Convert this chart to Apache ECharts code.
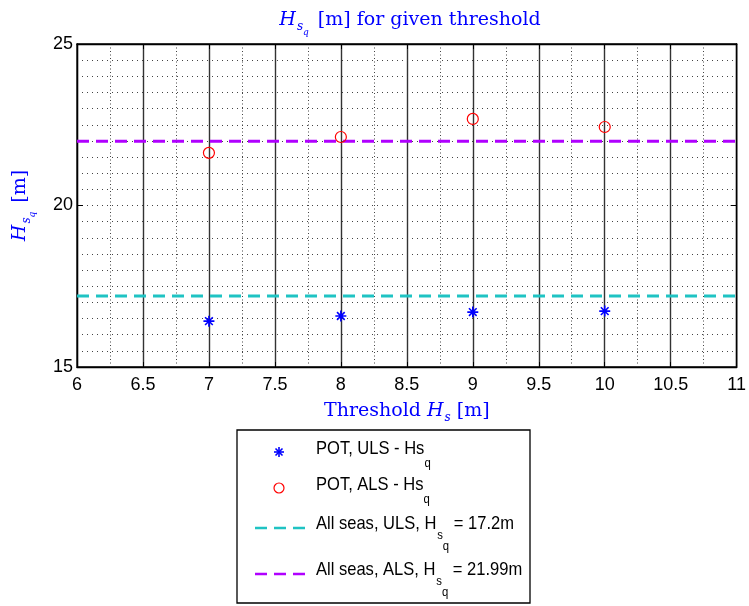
<!DOCTYPE html>
<html><head><meta charset="utf-8">
<script src="https://cdn.jsdelivr.net/npm/echarts@6/dist/echarts.min.js"></script>
<style>html,body{margin:0;padding:0;background:#fff}#c{width:749px;height:606px}</style>
</head><body><div id="c"></div>
<script>
// ---- data ----
const thresholds = [7, 8, 9, 10];
const hsqULS = [16.42, 16.58, 16.70, 16.73];
const hsqALS = [21.63, 22.12, 22.68, 22.43];
const allSeasULS = 17.2;
const allSeasALS = 21.99;
const xRange = [6, 11];
const yRange = [15, 25];
const legendNames = ['POT, ULS - Hs', 'POT, ALS - Hs', 'All seas, ULS, H', 'All seas, ALS, H'];

const SERIF = "'DejaVu Serif', 'Liberation Serif', serif";
const SANS = "'Liberation Sans', Arial, sans-serif";
const BLUE = '#0000ff';
const CYAN = '#1fc3c3';
const PURPLE = '#b000ff';
const STAR = 'path://M0,5L10,5M5,0L5,10M1.5,1.5L8.5,8.5M8.5,1.5L1.5,8.5';

const serifRich = {
  n: {fontFamily: SERIF, fontSize: 19, fontWeight: 'normal', color: BLUE, verticalAlign: 'top', lineHeight: 24},
  i: {fontFamily: SERIF, fontSize: 19, fontWeight: 'normal', fontStyle: 'italic', color: BLUE, verticalAlign: 'top', lineHeight: 24},
  s: {fontFamily: SERIF, fontSize: 12, fontWeight: 'normal', fontStyle: 'italic', color: BLUE, verticalAlign: 'top', lineHeight: 13, padding: [10, 0, 0, 1]},
  q: {fontFamily: SERIF, fontSize: 9, fontWeight: 'normal', fontStyle: 'italic', color: BLUE, verticalAlign: 'top', lineHeight: 10, padding: [17, 3, 0, 0]}
};

const sansRich = {
  n: {fontFamily: SANS, fontSize: 19, color: '#000', verticalAlign: 'top', lineHeight: 22},
  s: {fontFamily: SANS, fontSize: 13, color: '#000', verticalAlign: 'top', lineHeight: 13, padding: [15, 0, 0, 1]},
  q: {fontFamily: SANS, fontSize: 13, color: '#000', verticalAlign: 'top', lineHeight: 13, padding: [18, 0, 0, 0]},
  qq: {fontFamily: SANS, fontSize: 13, color: '#000', verticalAlign: 'top', lineHeight: 13, padding: [26, 0, 0, 0]}
};

const chart = echarts.init(document.getElementById('c'));

const legendX = 237, legendY = 430, legendW = 293, legendH = 173;
const rowsY = [452, 488, 528, 574];
const sx = 279;
const textScale = 0.87;

const legendGraphics = [
  {type: 'rect', shape: {x: legendX, y: legendY, width: legendW, height: legendH}, style: {fill: '#fff', stroke: '#000', lineWidth: 1.3}, z: 10},
  // star icon
  {type: 'line', shape: {x1: sx - 5, y1: rowsY[0], x2: sx + 5, y2: rowsY[0]}, style: {stroke: BLUE, lineWidth: 1.6}, z: 11},
  {type: 'line', shape: {x1: sx, y1: rowsY[0] - 5, x2: sx, y2: rowsY[0] + 5}, style: {stroke: BLUE, lineWidth: 1.6}, z: 11},
  {type: 'line', shape: {x1: sx - 3.5, y1: rowsY[0] - 3.5, x2: sx + 3.5, y2: rowsY[0] + 3.5}, style: {stroke: BLUE, lineWidth: 1.6}, z: 11},
  {type: 'line', shape: {x1: sx + 3.5, y1: rowsY[0] - 3.5, x2: sx - 3.5, y2: rowsY[0] + 3.5}, style: {stroke: BLUE, lineWidth: 1.6}, z: 11},
  {type: 'circle', shape: {cx: sx, cy: rowsY[1], r: 5}, style: {stroke: '#ff0000', lineWidth: 1.2, fill: 'none'}, z: 11},
  {type: 'line', shape: {x1: 255, y1: rowsY[2], x2: 312, y2: rowsY[2]}, style: {stroke: CYAN, lineWidth: 2.5, lineDash: [12, 7]}, z: 11},
  {type: 'line', shape: {x1: 255, y1: rowsY[3], x2: 312, y2: rowsY[3]}, style: {stroke: PURPLE, lineWidth: 2.5, lineDash: [12, 7]}, z: 11},
  // texts
  {type: 'text', x: 316, y: rowsY[0] - 13, scaleX: textScale, z: 11, style: {text: '{n|' + legendNames[0] + '}{q|q}', rich: sansRich}},
  {type: 'text', x: 316, y: rowsY[1] - 13, scaleX: textScale, z: 11, style: {text: '{n|' + legendNames[1] + '}{q|q}', rich: sansRich}},
  {type: 'text', x: 316, y: rowsY[2] - 14, scaleX: textScale, z: 11, style: {text: '{n|' + legendNames[2] + '}{s|s}{qq|q}{n| = ' + allSeasULS + 'm}', rich: sansRich}},
  {type: 'text', x: 316, y: rowsY[3] - 14, scaleX: textScale, z: 11, style: {text: '{n|' + legendNames[3] + '}{s|s}{qq|q}{n| = ' + allSeasALS + 'm}', rich: sansRich}}
];

const option = {
  animation: false,
  backgroundColor: '#fff',
  title: {
    text: '{i|H}{s|s}{q|q}{n| [m] for given threshold}',
    left: 405, textAlign: 'center', top: 6,
    textStyle: {rich: serifRich}
  },
  grid: {left: 77, right: 8, top: 44, bottom: 239, show: true, borderColor: '#000', borderWidth: 1.3, backgroundColor: 'transparent'},
  xAxis: [{
    type: 'value', min: xRange[0], max: xRange[1], interval: 0.5,
    name: '{n|Threshold }{i|H}{s|s}{n| [m]}', nameLocation: 'middle', nameGap: 35,
    nameTextStyle: {rich: serifRich},
    axisLine: {show: true, lineStyle: {color: '#000', width: 1.3}},
    axisTick: {show: true, inside: true, length: 5, lineStyle: {color: '#000'}},
    axisLabel: {color: '#000', fontFamily: SANS, fontSize: 18, margin: 9},
    splitLine: {show: true, lineStyle: {color: '#333', width: 1.4, type: 'solid'}},
    minorTick: {show: false, splitNumber: 2},
    minorSplitLine: {show: true, lineStyle: {color: '#444', width: 1, type: [1, 2.5]}}
  }, {
    type: 'value', min: xRange[0], max: xRange[1], interval: 0.5, position: 'top',
    axisLine: {show: true, lineStyle: {color: '#000', width: 1.3}},
    axisTick: {show: true, inside: true, length: 5, lineStyle: {color: '#000'}},
    axisLabel: {show: false}, splitLine: {show: false}
  }],
  yAxis: [{
    type: 'value', min: yRange[0], max: yRange[1], interval: 5,
    name: '{i|H}{s|s}{q|q}{n| [m]}', nameLocation: 'middle', nameGap: 42, nameRotate: 90,
    nameTextStyle: {rich: serifRich},
    axisLine: {show: true, lineStyle: {color: '#000', width: 1.3}},
    axisTick: {show: true, inside: true, length: 6, lineStyle: {color: '#000'}},
    axisLabel: {color: '#000', fontFamily: SANS, fontSize: 18, margin: 4},
    splitLine: {show: true, lineStyle: {color: '#444', width: 1, type: [1, 4]}},
    minorTick: {show: false, splitNumber: 10},
    minorSplitLine: {show: true, lineStyle: {color: '#444', width: 1, type: [1, 4]}}
  }, {
    type: 'value', min: yRange[0], max: yRange[1], interval: 5, position: 'right',
    axisLine: {show: true, lineStyle: {color: '#000', width: 1.3}},
    axisTick: {show: true, inside: true, length: 6, lineStyle: {color: '#000'}},
    axisLabel: {show: false}, splitLine: {show: false}
  }],
  series: [
    {
      name: legendNames[0], type: 'scatter', symbol: STAR, symbolSize: 11,
      itemStyle: {color: 'none', borderColor: BLUE, borderWidth: 1.6, opacity: 1},
      data: thresholds.map((t, k) => [t, hsqULS[k]]), z: 5
    },
    {
      name: legendNames[1], type: 'scatter', symbol: 'circle', symbolSize: 11,
      itemStyle: {color: 'none', borderColor: '#ff0000', borderWidth: 1.2, opacity: 1},
      data: thresholds.map((t, k) => [t, hsqALS[k]]), z: 5
    },
    {
      name: legendNames[2], type: 'line', symbol: 'none',
      lineStyle: {color: CYAN, width: 3, type: [12, 7]},
      data: xRange.map(x => [x, allSeasULS]), z: 4
    },
    {
      name: legendNames[3], type: 'line', symbol: 'none',
      lineStyle: {color: PURPLE, width: 3, type: [12, 7]},
      data: xRange.map(x => [x, allSeasALS]), z: 4
    }
  ],
  graphic: legendGraphics
};
chart.setOption(option);
</script>
</body></html>
